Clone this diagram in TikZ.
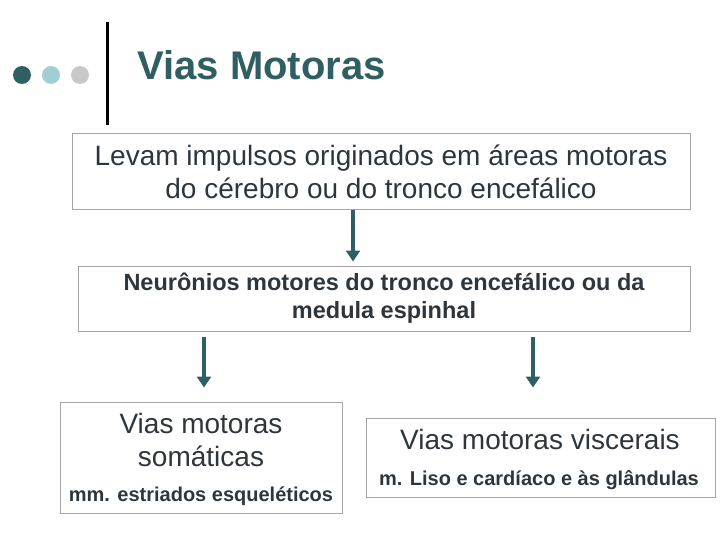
\documentclass[tikz,border=0pt]{standalone}
\usepackage{fontspec}
\setmainfont{Liberation Sans}
\usetikzlibrary{arrows.meta}
\definecolor{tealdark}{HTML}{2F5F62}
\definecolor{teallight}{HTML}{9FCFD2}
\definecolor{dotgrey}{HTML}{C8C8C8}
\definecolor{txt}{HTML}{2E363D}
\tikzset{
  box/.style={draw=gray!70, line width=1pt, inner sep=0pt, align=center, text=txt},
  flow/.style={-{Triangle[length=11pt,width=14pt]}, line width=4.5pt, draw=tealdark}
}
\begin{document}
\begin{tikzpicture}[x=1pt,y=-1pt]
\useasboundingbox (0,0) rectangle (720,540);
% bullets and bar
\fill[tealdark] (22,75) circle (9);
\fill[teallight] (51,75) circle (9);
\fill[dotgrey] (80,75) circle (9);
\draw[line width=3pt] (107,22) -- (107,125);
\node[anchor=west, text=tealdark, font=\bfseries\fontsize{40}{44}\selectfont] (title) at (134,65) {Vias Motoras};
% boxes
\node[box, minimum width=618, minimum height=76, font=\fontsize{28}{33}\selectfont] (orig) at (381,172)
  {Levam impulsos originados em áreas motoras\\do cérebro ou do tronco encefálico};
\node[box, minimum width=612, minimum height=65, font=\bfseries\fontsize{23.5}{28}\selectfont] (neur) at (384,298.5)
  {Neurônios motores do tronco encefálico ou da\\medula espinhal};
\node[box, minimum width=282, minimum height=111] (soma) at (201,457.5) {};
\node[text=txt, align=center, font=\fontsize{28}{33}\selectfont] (somat) at (201,440) {Vias motoras\\somáticas};
\node[text=txt, font=\bfseries\fontsize{20}{24}\selectfont] (somas) at (201,496) {mm. estriados esqueléticos};
\node[box, minimum width=349, minimum height=79] (visc) at (540.5,457.5) {};
\node[text=txt, font=\fontsize{28}{33}\selectfont] (visct) at (540,439) {Vias motoras viscerais};
\node[text=txt, font=\bfseries\fontsize{20}{24}\selectfont] (viscs) at (539,480) {m. Liso e cardíaco e às glândulas};
% arrows
\draw[flow, shorten <=0pt, shorten >=4pt] (orig.south -| 353,0) -- (neur.north -| 353,0);
\draw[flow, shorten <=5pt, shorten >=14pt] (neur.south -| 204,0) -- (soma.north -| 204,0);
\draw[flow, shorten <=5pt, shorten >=30pt] (neur.south -| 533,0) -- (visc.north -| 533,0);
\end{tikzpicture}
\end{document}
